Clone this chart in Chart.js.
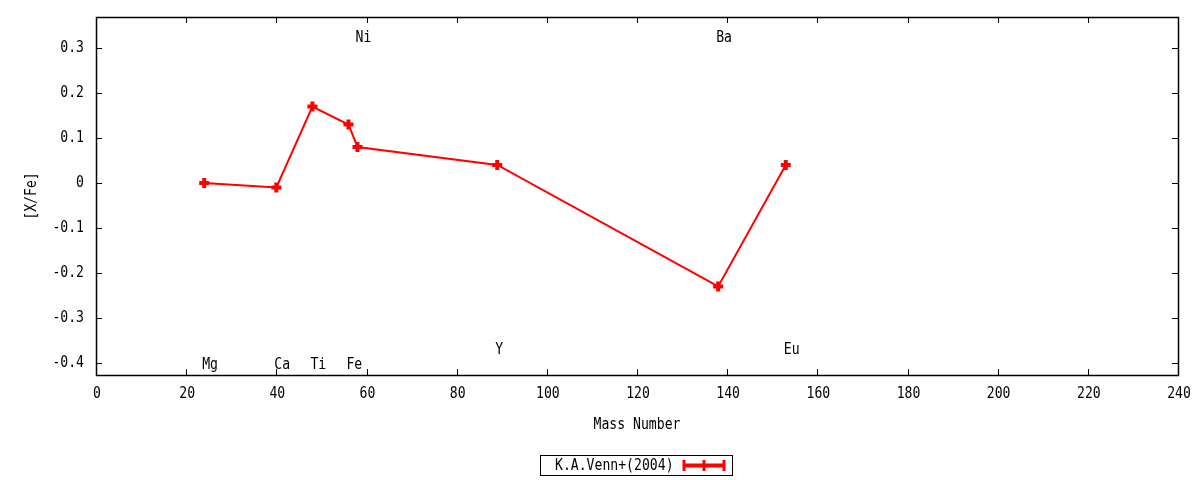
<!DOCTYPE html>
<html><head><meta charset="utf-8">
<script src="https://cdn.jsdelivr.net/npm/chart.js@4/dist/chart.umd.min.js"></script>
<style>html,body{margin:0;padding:0;background:#fff}#wrap{width:1200px;height:480px}</style>
</head><body><div id="wrap"><canvas id="c"></canvas></div>
<script>
const massNumbers = [24, 40, 48, 56, 58, 89, 138, 153];
const xFeValues = [0, -0.01, 0.17, 0.13, 0.08, 0.04, -0.23, 0.04];
const elementNames = ['Mg', 'Ca', 'Ti', 'Fe', 'Ni', 'Y', 'Ba', 'Eu'];
const elementLabelY = [-0.404, -0.404, -0.404, -0.404, 0.322, -0.372, 0.322, -0.372];
const xTicks = [0, 20, 40, 60, 80, 100, 120, 140, 160, 180, 200, 220, 240];
const yTicks = [-0.4, -0.3, -0.2, -0.1, 0, 0.1, 0.2, 0.3];
const xTickLabels = ['0', '20', '40', '60', '80', '100', '120', '140', '160', '180', '200', '220', '240'];
const yTickLabels = ['-0.4', '-0.3', '-0.2', '-0.1', '0', '0.1', '0.2', '0.3'];
const xTitle = 'Mass Number';
const yTitle = '[X/Fe]';
const seriesName = 'K.A.Venn+(2004)';

const FONT = "'DejaVu Sans Mono', monospace";
const RED = '#ff0000';
const SX = 0.875;

function txt(ctx, s, x, y, align, rot) {
  ctx.save();
  ctx.translate(x, y);
  if (rot) ctx.rotate(rot);
  ctx.scale(SX, 1);
  ctx.textAlign = align;
  ctx.textBaseline = 'middle';
  ctx.fillText(s, 0, 0);
  ctx.restore();
}

const framePlugin = {
  id: 'frame',
  afterDatasetsDraw(chart) {
    const {ctx, chartArea: a, scales: {x, y}} = chart;
    ctx.save();
    ctx.strokeStyle = '#000';
    ctx.lineWidth = 1;
    ctx.beginPath();
    const t = 6;
    xTicks.forEach(v => {
      const px = Math.round(x.getPixelForValue(v)) + 0.5;
      if (v === xTicks[0] || v === xTicks[xTicks.length-1]) return;
      ctx.moveTo(px, a.bottom); ctx.lineTo(px, a.bottom - t);
      ctx.moveTo(px, a.top); ctx.lineTo(px, a.top + t);
    });
    yTicks.forEach(v => {
      const py = Math.round(y.getPixelForValue(v)) + 0.5;
      ctx.moveTo(a.left, py); ctx.lineTo(a.left + t, py);
      ctx.moveTo(a.right, py); ctx.lineTo(a.right - t, py);
    });
    ctx.stroke();
    ctx.lineWidth = 1.5;
    ctx.strokeRect(Math.round(a.left) + 0.5, Math.round(a.top) + 0.5, Math.round(a.right - a.left), Math.round(a.bottom - a.top));

    ctx.fillStyle = '#000';
    ctx.font = '15px ' + FONT;
    xTicks.forEach((v, i) => txt(ctx, xTickLabels[i], x.getPixelForValue(v) + 1, a.bottom + 19, 'center'));
    yTicks.forEach((v, i) => txt(ctx, yTickLabels[i], a.left - 12, y.getPixelForValue(v), 'right'));
    txt(ctx, xTitle, (a.left + a.right) / 2, a.bottom + 50, 'center');
    txt(ctx, yTitle, 32, (a.top + a.bottom) / 2, 'center', -Math.PI / 2);
    elementNames.forEach((n, i) => {
      txt(ctx, n, x.getPixelForValue(massNumbers[i]) - 2, y.getPixelForValue(elementLabelY[i]), 'left');
    });
    const lx = 540, ly = 455, lw = 192, lh = 20;
    ctx.lineWidth = 1;
    ctx.strokeRect(lx + 0.5, ly + 0.5, lw, lh);
    txt(ctx, seriesName, 555, ly + lh / 2 + 1, 'left');
    ctx.strokeStyle = RED;
    ctx.lineWidth = 4;
    ctx.beginPath();
    ctx.moveTo(684, 465.5); ctx.lineTo(724, 465.5);
    ctx.stroke();
    ctx.lineWidth = 3;
    ctx.beginPath();
    ctx.moveTo(684, 460); ctx.lineTo(684, 471);
    ctx.moveTo(724, 460); ctx.lineTo(724, 471);
    ctx.moveTo(704, 460); ctx.lineTo(704, 471);
    ctx.stroke();
    ctx.restore();
  }
};

new Chart(document.getElementById('c'), {
  type: 'line',
  data: {
    datasets: [{
      label: seriesName,
      data: massNumbers.map((m, i) => ({x: m, y: xFeValues[i]})),
      borderColor: RED,
      backgroundColor: RED,
      borderWidth: 2,
      pointStyle: 'cross',
      pointRadius: 5,
      pointBorderWidth: 4,
      pointHoverRadius: 5,
      tension: 0,
      fill: false
    }]
  },
  options: {
    responsive: true,
    maintainAspectRatio: false,
    animation: false,
    events: [],
    layout: {padding: {top: 17, right: 22, bottom: 45, left: 0}},
    plugins: {legend: {display: false}, tooltip: {enabled: false}},
    scales: {
      x: {
        type: 'linear', min: 0, max: 240,
        afterBuildTicks: s => { s.ticks = xTicks.map(v => ({value: v})); },
        afterFit: s => { s.height = 60; },
        grid: {display: false, drawTicks: false},
        border: {display: false},
        ticks: {display: false}
      },
      y: {
        type: 'linear', min: -0.427, max: 0.369,
        afterBuildTicks: s => { s.ticks = yTicks.map(v => ({value: v})); },
        afterFit: s => { s.width = 96; },
        grid: {display: false, drawTicks: false},
        border: {display: false},
        ticks: {display: false}
      }
    }
  },
  plugins: [framePlugin]
});
</script></body></html>
